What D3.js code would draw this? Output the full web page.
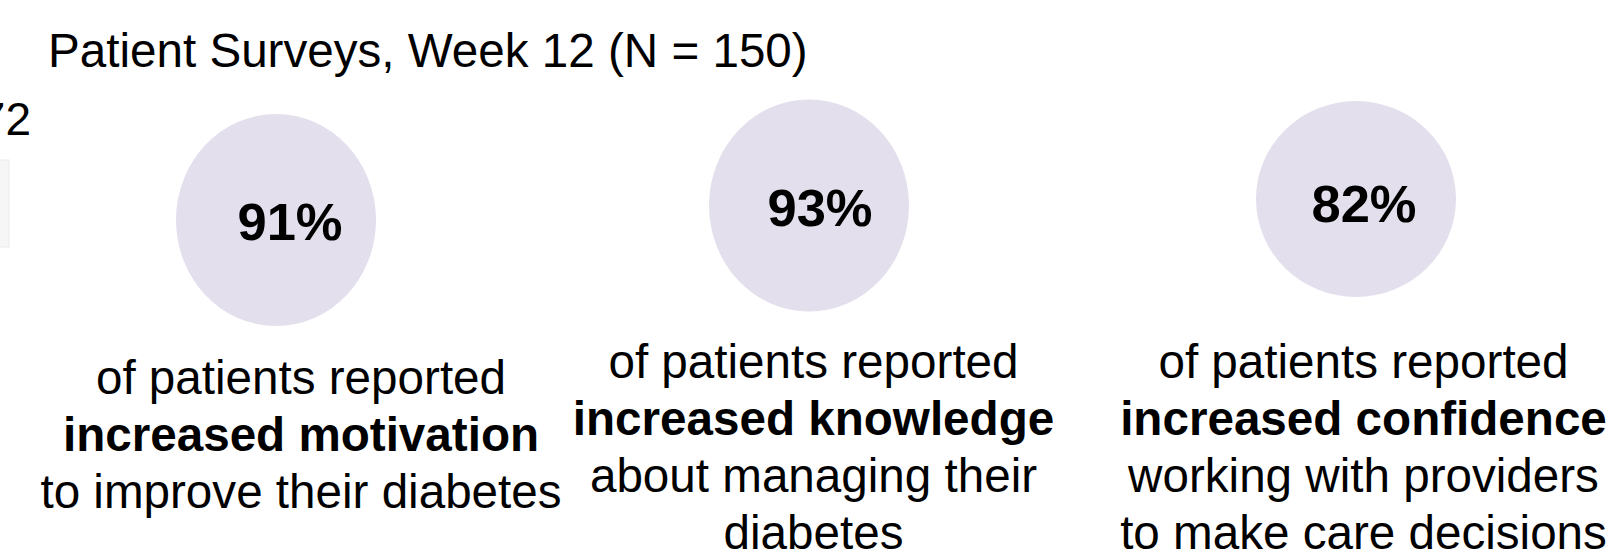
<!DOCTYPE html>
<html lang="en">
<head>
    <meta charset="UTF-8">
    <title>Patient Surveys, Week 12</title>
    <script src="https://d3js.org/d3.v7.min.js"></script>
    <style>
        body {
            margin: 0;
            padding: 0;
            background-color: white;
            font-family: 'Liberation Sans', Arial, sans-serif;
        }
        svg {
            display: block;
        }
    </style>
</head>
<body>
    <div id="chart"></div>

    <script type="text/javascript">
        // survey results
        const categories = ["motivation", "knowledge", "confidence"];
        const percents = [91, 93, 82];
        const leadLine = "of patients reported";
        const boldLines = ["increased motivation", "increased knowledge", "increased confidence"];
        const tailLines = [
            ["to improve their diabetes"],
            ["about managing their", "diabetes"],
            ["working with providers", "to make care decisions"]
        ];
        const titleText = "Patient Surveys, Week 12 (N = 150)";

        const width = 1611;
        const height = 554;
        const fontSize = 47.6;
        const lineGap = 57;

        // slide placement of each panel (circles were placed by hand, not on a grid)
        const layout = [
            {cx: 276, cy: 220, rx: 100, ry: 106, labelX: 290, labelY: 240, textX: 301, textY: 393.5},
            {cx: 809, cy: 205.5, rx: 100, ry: 106, labelX: 820, labelY: 226, textX: 813.5, textY: 378},
            {cx: 1356, cy: 199, rx: 100, ry: 98, labelX: 1364, labelY: 222, textX: 1363.5, textY: 378}
        ];

        const svg = d3.select("#chart").append("svg")
            .attr("width", width)
            .attr("height", height);

        // remains of the previous slide at the left edge
        svg.append("rect")
            .attr("x", -1).attr("y", 160)
            .attr("width", 10).attr("height", 87)
            .attr("fill", "#f6f6f6")
            .attr("stroke", "#ececec");
        svg.append("text")
            .attr("x", 31).attr("y", 135)
            .attr("text-anchor", "end")
            .style("font-size", "46px")
            .text("72");

        svg.append("text")
            .attr("x", 48).attr("y", 66.5)
            .style("font-size", fontSize + "px")
            .text(titleText);

        const panels = svg.selectAll("g.panel")
            .data(categories.map((c, i) => ({
                key: c,
                value: percents[i],
                lines: [{t: leadLine, bold: false}, {t: boldLines[i], bold: true}]
                    .concat(tailLines[i].map(t => ({t: t, bold: false}))),
                pos: layout[i]
            })))
            .join("g")
            .attr("class", "panel");

        panels.append("ellipse")
            .attr("cx", d => d.pos.cx)
            .attr("cy", d => d.pos.cy)
            .attr("rx", d => d.pos.rx)
            .attr("ry", d => d.pos.ry)
            .attr("fill", "#e3dfec");

        panels.append("text")
            .attr("x", d => d.pos.labelX)
            .attr("y", d => d.pos.labelY)
            .attr("text-anchor", "middle")
            .style("font-size", "52.5px")
            .style("font-weight", "bold")
            .text(d => d.value + "%");

        panels.each(function(d) {
            d3.select(this).selectAll("text.line")
                .data(d.lines)
                .join("text")
                .attr("class", "line")
                .attr("x", d.pos.textX)
                .attr("y", (l, j) => d.pos.textY + j * lineGap)
                .attr("text-anchor", "middle")
                .style("font-size", fontSize + "px")
                .style("font-weight", l => l.bold ? "bold" : "normal")
                .text(l => l.t);
        });
    </script>
</body>
</html>
